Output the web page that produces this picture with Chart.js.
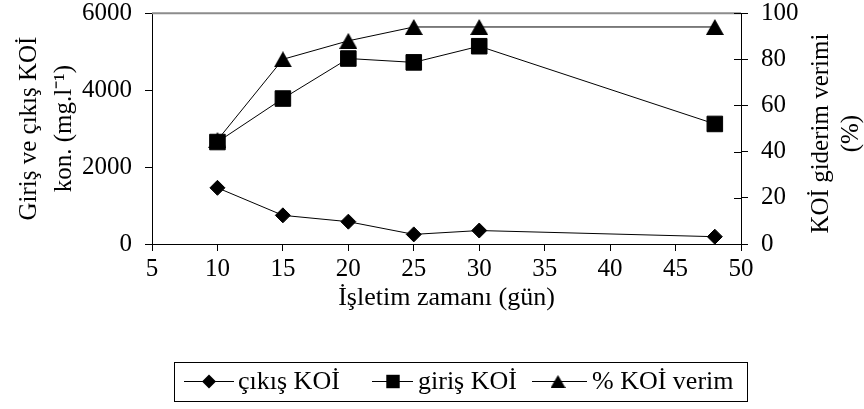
<!DOCTYPE html>
<html>
<head>
<meta charset="utf-8">
<script src="https://cdn.jsdelivr.net/npm/chart.js@4.4.1/dist/chart.umd.min.js"></script>
<style>
html,body{margin:0;padding:0;background:#fff;}
#wrap{width:864px;height:409px;position:relative;}
canvas{display:block;}
</style>
</head>
<body>
<div id="wrap"><canvas id="c" width="864" height="409"></canvas></div>
<script>
// ---- data ----
const days = [10, 15, 20, 25, 30, 48];
const cikisKOI = [1460, 745, 580, 250, 350, 190];
const girisKOI = [2650, 3780, 4820, 4720, 5140, 3120];
const verimKOI = [45, 80, 88, 94, 94, 94];
const seriesNames = ['çıkış KOİ', 'giriş KOİ', '% KOİ verim'];
const xTickValues = [5, 10, 15, 20, 25, 30, 35, 40, 45, 50];
const leftTickValues = [0, 2000, 4000, 6000];
const rightTickValues = [0, 20, 40, 60, 80, 100];
const xTitle = 'İşletim zamanı (gün)';
const leftTitle = ['Giriş ve çıkış KOİ', 'kon. (mg.l⁻¹)'];
const rightTitle = ['KOİ giderim verimi', '(%)'];

const FONT = "'Liberation Serif', 'Times New Roman', serif";
const FS = 25;
const FS2 = 26;
Chart.defaults.font.family = FONT;
Chart.defaults.font.size = FS;
Chart.defaults.color = '#000';

// triangle marker image (centred on its bounding box, like the original)
function makeTriangle(w, h) {
  const c = document.createElement('canvas');
  c.width = w; c.height = h;
  const g = c.getContext('2d');
  g.fillStyle = '#000';
  g.beginPath();
  g.moveTo(w / 2, 0);
  g.lineTo(w, h);
  g.lineTo(0, h);
  g.closePath();
  g.fill();
  return c;
}
const triImg = makeTriangle(18, 16);
const triLegend = makeTriangle(15, 13);

const pts = (vals) => days.map((d, i) => ({x: d, y: vals[i]}));
const styles = ['rectRot', 'rect', triImg];
const radii = [7.5, 11, 10];

const datasets = [
  {label: seriesNames[0], data: pts(cikisKOI), yAxisID: 'y'},
  {label: seriesNames[1], data: pts(girisKOI), yAxisID: 'y'},
  {label: seriesNames[2], data: pts(verimKOI), yAxisID: 'y2'}
].map((d, i) => Object.assign(d, {
  borderColor: '#000', borderWidth: 1, backgroundColor: '#000',
  pointStyle: styles[i], pointRadius: radii[i], pointHoverRadius: radii[i],
  pointBackgroundColor: '#000', pointBorderColor: '#000', pointBorderWidth: 1,
  tension: 0, fill: false
}));

const decorPlugin = {
  id: 'decor',
  afterDraw(chart) {
    const ctx = chart.ctx;
    const a = chart.chartArea;
    ctx.save();
    // grey top border of plot area
    ctx.strokeStyle = '#8c8c8c';
    ctx.lineWidth = 2;
    ctx.beginPath();
    ctx.moveTo(a.left, a.top);
    ctx.lineTo(a.right, a.top);
    ctx.stroke();
    // inner half of right-axis ticks (crossing ticks)
    const y2 = chart.scales.y2;
    ctx.strokeStyle = '#000';
    ctx.lineWidth = 1;
    y2.ticks.forEach(t => {
      const py = Math.round(y2.getPixelForValue(t.value)) + 0.5;
      ctx.beginPath();
      ctx.moveTo(a.right - 7, py);
      ctx.lineTo(a.right, py);
      ctx.stroke();
    });
    // right axis title, reading upward
    ctx.fillStyle = '#000';
    ctx.font = FS + 'px ' + FONT;
    ctx.textAlign = 'center';
    ctx.textBaseline = 'middle';
    const cy = (a.top + a.bottom) / 2 + 5;
    const xs = [821, 851];
    rightTitle.forEach((txt, i) => {
      ctx.save();
      ctx.translate(xs[i], cy);
      ctx.rotate(-Math.PI / 2);
      ctx.fillText(txt, 0, 0);
      ctx.restore();
    });
    // legend box
    const box = {l: 174, t: 362, r: 747, b: 401};
    ctx.strokeStyle = '#000';
    ctx.lineWidth = 1;
    ctx.strokeRect(box.l + 0.5, box.t + 0.5, box.r - box.l, box.b - box.t);
    const ly = 381.5;
    ctx.font = FS2 + 'px ' + FONT;
    ctx.textAlign = 'left';
    const items = [
      {x1: 184, x2: 234, c: 209, tx: 238},
      {x1: 372, x2: 413, c: 393, tx: 418},
      {x1: 532, x2: 587, c: 558, tx: 592}
    ];
    seriesNames.forEach((name, i) => {
      const it = items[i];
      ctx.beginPath();
      ctx.moveTo(it.x1, ly);
      ctx.lineTo(it.x2, ly);
      ctx.stroke();
      ctx.fillStyle = '#000';
      if (i === 2) {
        ctx.drawImage(triLegend, it.c - triLegend.width / 2, ly - triLegend.height / 2);
      } else {
        Chart.helpers.drawPoint(ctx, {pointStyle: styles[i], rotation: 0, borderWidth: 0, radius: i === 0 ? 7 : 9.5}, it.c, ly);
      }
      ctx.fillText(name, it.tx, ly + 1);
    });
    ctx.restore();
  }
};

new Chart(document.getElementById('c'), {
  type: 'line',
  data: {datasets},
  plugins: [decorPlugin],
  options: {
    responsive: false,
    animation: false,
    devicePixelRatio: 1,
    layout: {padding: {left: 0, right: 0, top: 0, bottom: 90}},
    plugins: {legend: {display: false}, tooltip: {enabled: false}, title: {display: false}},
    scales: {
      x: {
        type: 'linear', position: 'bottom', min: 5, max: 50,
        afterBuildTicks: s => { s.ticks = xTickValues.map(v => ({value: v})); },
        ticks: {padding: 3, maxRotation: 0, autoSkip: false, color: '#000', font: {size: FS}, callback: v => String(v)},
        grid: {drawOnChartArea: false, drawTicks: true, tickLength: 7, color: '#000', lineWidth: 1},
        border: {display: true, color: '#000', width: 1},
        title: {display: true, text: xTitle, color: '#000', font: {size: FS2}, padding: {top: 0, bottom: 5}},
        afterFit: s => { s.height = 75; }
      },
      y: {
        type: 'linear', position: 'left', min: 0, max: 6000,
        afterBuildTicks: s => { s.ticks = leftTickValues.map(v => ({value: v})); },
        ticks: {padding: 13, color: '#000', font: {size: FS, lineHeight: 0.01}, callback: v => String(v)},
        grid: {drawOnChartArea: false, drawTicks: true, tickLength: 7, color: '#000', lineWidth: 1},
        border: {display: true, color: '#000', width: 1},
        title: {display: true, text: leftTitle, color: '#000', font: {size: FS, lineHeight: 1.4}, padding: {top: 12, bottom: 0}},
        afterFit: s => { s.width = 152; }
      },
      y2: {
        type: 'linear', position: 'right', min: 0, max: 100,
        afterBuildTicks: s => { s.ticks = rightTickValues.map(v => ({value: v})); },
        ticks: {padding: 13, color: '#000', font: {size: FS, lineHeight: 0.01}, callback: v => String(v)},
        grid: {drawOnChartArea: false, drawTicks: true, tickLength: 7, color: '#000', lineWidth: 1},
        border: {display: true, color: '#000', width: 1},
        title: {display: false},
        afterFit: s => { s.width = 123; }
      }
    }
  }
});
</script>
</body>
</html>
